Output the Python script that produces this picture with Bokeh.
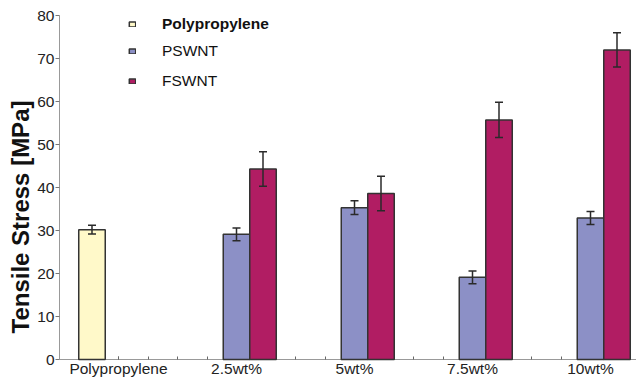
from bokeh.plotting import figure
from bokeh.models import (ColumnDataSource, Range1d, FixedTicker, Whisker, TeeHead,
                          Legend, LegendItem, Title)
from bokeh.transform import dodge
from bokeh.embed import file_html
from bokeh.resources import INLINE

# ---- data ----
categories = ["Polypropylene", "2.5wt%", "5wt%", "7.5wt%", "10wt%"]
y_ticks = [0, 10, 20, 30, 40, 50, 60, 70, 80]

pp_categories = ["Polypropylene"]
pp_values = [30.2]
pp_errors = [1.0]

swnt_categories = ["2.5wt%", "5wt%", "7.5wt%", "10wt%"]
pswnt_values = [29.1, 35.3, 19.1, 32.9]
pswnt_errors = [1.5, 1.6, 1.5, 1.5]
fswnt_values = [44.3, 38.6, 55.7, 72.0]
fswnt_errors = [4.0, 4.0, 4.1, 4.0]

# ---- style ----
FONT = "Liberation Sans"
BAR_W = 0.2246
PP_COLOR = "#fff9c9"
PS_COLOR = "#8c90c6"
FS_COLOR = "#b11d63"
EDGE = "#333333"
W, H = 636, 379
LEFT, TOP, BOTTOM = 59, 15, 18
FRAME_BOTTOM = H - BOTTOM


def src(cats, vals, errs):
    return ColumnDataSource(dict(
        x=[categories.index(c) + 0.5 for c in cats],
        top=vals,
        upper=[v + e for v, e in zip(vals, errs)],
        lower=[v - e for v, e in zip(vals, errs)],
    ))


pp_src = src(pp_categories, pp_values, pp_errors)
ps_src = src(swnt_categories, pswnt_values, pswnt_errors)
fs_src = src(swnt_categories, fswnt_values, fswnt_errors)

p = figure(width=W, height=H, output_backend="svg", toolbar_location=None,
           x_range=Range1d(0, (W - LEFT) / 118), y_range=Range1d(0, 80),
           min_border_left=LEFT, min_border_right=0, min_border_top=TOP,
           min_border_bottom=BOTTOM)
p.outline_line_color = None
p.grid.visible = False
p.background_fill_color = "white"

bars = []
for s, off, col in [(pp_src, -BAR_W, PP_COLOR), (ps_src, 0.0, PS_COLOR), (fs_src, BAR_W, FS_COLOR)]:
    r = p.vbar(x=dodge("x", off), top="top", bottom=0, width=BAR_W, source=s,
               fill_color=col, line_color=EDGE, line_width=1.5, level="annotation")
    bars.append(r)
    w = Whisker(base=dodge("x", off), upper="upper", lower="lower", source=s,
                line_color="#2a2a2a", line_width=1.5, level="overlay",
                upper_head=TeeHead(size=8, line_color="#2a2a2a", line_width=1.5),
                lower_head=TeeHead(size=8, line_color="#2a2a2a", line_width=1.5))
    p.add_layout(w)

# ---- axes ----
xa = p.xaxis[0]
xa.ticker = FixedTicker(ticks=[i + 0.5 for i in range(len(categories))],
                        minor_ticks=[i * 0.25 for i in range(1, 20)])
xa.major_label_overrides = {i + 0.5: c for i, c in enumerate(categories)}
xa.major_tick_in = 3
xa.major_tick_out = 0
xa.minor_tick_in = 3
xa.minor_tick_out = 0
xa.major_tick_line_color = "#666666"
xa.minor_tick_line_color = "#666666"
xa.axis_line_color = "#999999"
xa.major_label_text_font = FONT
xa.major_label_text_font_size = "15.5px"
xa.major_label_text_color = "#222222"
xa.major_label_standoff = 0

ya = p.yaxis[0]
ya.ticker = FixedTicker(ticks=y_ticks)
ya.minor_tick_line_color = None
ya.major_tick_in = 0
ya.major_tick_out = 4
ya.major_tick_line_color = "#777777"
ya.axis_line_color = "#999999"
ya.major_label_text_font = FONT
ya.major_label_text_font_size = "15.5px"
ya.major_label_text_color = "#222222"
ya.major_label_standoff = 1

# y-axis title as a side title, shifted below the middle as in the reference
ytitle = Title(text="Tensile Stress [MPa]", align="left", offset=26, standoff=0,
               vertical_align="middle", text_font=FONT, text_font_style="bold",
               text_font_size="24px", text_color="#111111")
p.add_layout(ytitle, "left")

# ---- legends ----
common = dict(margin=0, padding=0, spacing=10, glyph_width=8, glyph_height=6,
              label_height=20, label_standoff=26, border_line_alpha=0,
              background_fill_alpha=0, label_text_font=FONT,
              label_text_font_size="15.5px", label_text_color="#111111")
leg1 = Legend(items=[LegendItem(label="Polypropylene", renderers=[bars[0]])],
              location=(69, FRAME_BOTTOM - 36), label_text_font_style="bold", **common)
leg2 = Legend(items=[LegendItem(label="PSWNT", renderers=[bars[1]]),
                     LegendItem(label="FSWNT", renderers=[bars[2]])],
              location=(69, FRAME_BOTTOM - 93), **common)
p.add_layout(leg1)
p.add_layout(leg2)

open("out.html", "w").write(file_html(p, INLINE))
